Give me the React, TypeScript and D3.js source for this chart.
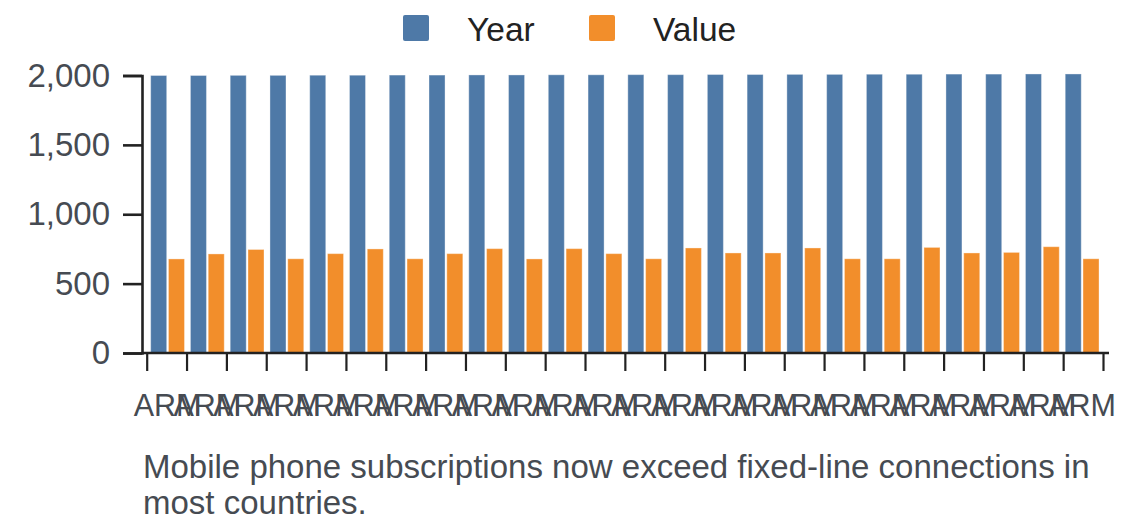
import React, { useRef, useEffect } from 'react';
import * as d3 from 'd3';

const countries: string[] = [
  'ARM', 'ARM', 'ARM', 'ARM', 'ARM', 'ARM', 'ARM', 'ARM', 'ARM', 'ARM', 'ARM', 'ARM',
  'ARM', 'ARM', 'ARM', 'ARM', 'ARM', 'ARM', 'ARM', 'ARM', 'ARM', 'ARM', 'ARM', 'ARM'
];

const years: number[] = [
  2000, 2000, 2001, 2001, 2002, 2002, 2003, 2003, 2004, 2004, 2005, 2005,
  2006, 2006, 2007, 2007, 2008, 2008, 2009, 2009, 2010, 2010, 2011, 2011
];

const values: number[] = [
  678, 714, 746, 679, 716, 750, 679, 716, 752, 678, 752, 716,
  679, 757, 721, 721, 757, 679, 679, 761, 721, 725, 766, 679
];

const seriesNames = ['Year', 'Value'];
const seriesColors = ['#4e79a7', '#f28e2b'];
const yTicks = [0, 500, 1000, 1500, 2000];
const caption = [
  'Mobile phone subscriptions now exceed fixed-line connections in',
  'most countries.'
];

const App: React.FC = () => {
  const svgRef = useRef<SVGSVGElement>(null);

  useEffect(() => {
    if (!svgRef.current) return;
    document.body.style.margin = '0';

    const svg = d3.select(svgRef.current);
    svg.selectAll('*').remove();

    const font = '"Liberation Sans", Arial, sans-serif';
    const axisColor = '#222';
    const labelColor = '#464b52';

    const left = 142;
    const tickStart = 146.7;
    const tickEnd = 1103;
    const top = 75.5;
    const bottom = 353;

    const idx = countries.map((_, i) => String(i));

    const x0 = d3.scaleBand<string>()
      .domain(idx)
      .range([tickStart, tickEnd])
      .paddingInner(0.15)
      .paddingOuter(0.1);

    const x1 = d3.scaleBand<string>()
      .domain(seriesNames)
      .range([0, x0.bandwidth()])
      .padding(0.1)
      .paddingOuter(0);

    const y = d3.scaleLinear()
      .domain([0, 2000])
      .range([bottom, top]);

    const color = d3.scaleOrdinal<string, string>()
      .domain(seriesNames)
      .range(seriesColors);

    const rows = countries.map((c, i) => ({ key: String(i), c, Year: years[i], Value: values[i] }));

    // bars
    svg.append('g')
      .selectAll('g')
      .data(rows)
      .join('g')
      .attr('transform', d => `translate(${x0(d.key)},0)`)
      .selectAll('rect')
      .data(d => seriesNames.map(k => ({ k, v: (d as any)[k] as number })))
      .join('rect')
      .attr('x', d => x1(d.k) || 0)
      .attr('y', d => y(d.v))
      .attr('width', x1.bandwidth())
      .attr('height', d => bottom - y(d.v))
      .attr('fill', d => color(d.k))
      .attr('stroke', '#fff')
      .attr('stroke-opacity', 0.35)
      .attr('stroke-width', 1);

    // x ticks at group boundaries
    const xTick = d3.scaleLinear().domain([0, countries.length]).range([tickStart, tickEnd]);
    const xAxis = svg.append('g')
      .attr('transform', `translate(0,${bottom})`)
      .call(d3.axisBottom(xTick).ticks(countries.length).tickSize(18).tickSizeOuter(0).tickFormat(() => ''));
    xAxis.select('.domain').remove();
    xAxis.selectAll('line').attr('stroke', axisColor).attr('stroke-width', 2.2);

    svg.append('line')
      .attr('x1', left).attr('x2', 1109)
      .attr('y1', bottom).attr('y2', bottom)
      .attr('stroke', axisColor).attr('stroke-width', 2.6);

    // x labels
    svg.append('g')
      .selectAll('text')
      .data(rows)
      .join('text')
      .attr('x', d => (x0(d.key) || 0) + x0.bandwidth() / 2)
      .attr('y', 416)
      .attr('text-anchor', 'middle')
      .attr('font-family', font)
      .attr('font-size', 30.5)
      .attr('fill', labelColor)
      .text(d => d.c);

    // y axis
    const yAxis = svg.append('g')
      .attr('transform', `translate(${left},0)`)
      .call(d3.axisLeft(y).tickValues(yTicks).tickSize(19).tickPadding(13).tickFormat(d3.format(',')));
    yAxis.select('.domain').attr('stroke', axisColor).attr('stroke-width', 2.6);
    yAxis.selectAll('line').attr('stroke', axisColor).attr('stroke-width', 2.6);
    yAxis.selectAll('text')
      .attr('font-family', font)
      .attr('font-size', 33)
      .attr('fill', labelColor);

    // legend
    const legend = svg.append('g').attr('transform', 'translate(403,15)');
    const item = legend.selectAll('g')
      .data(seriesNames)
      .join('g')
      .attr('transform', (_, i) => `translate(${i * 186},0)`);
    item.append('rect')
      .attr('width', 26).attr('height', 26)
      .attr('rx', 2)
      .attr('fill', d => color(d));
    item.append('text')
      .attr('x', 64)
      .attr('y', 26)
      .attr('font-family', font)
      .attr('font-size', 33.5)
      .attr('fill', '#222')
      .text(d => d);

    // caption
    svg.append('text')
      .attr('font-family', font)
      .attr('font-size', 33)
      .attr('fill', labelColor)
      .selectAll('tspan')
      .data(caption)
      .join('tspan')
      .attr('x', 143)
      .attr('y', (_, i) => 478 + i * 36)
      .text(d => d);
  }, []);

  return (
    <svg ref={svgRef} width="1140" height="528" style={{ display: 'block' }}></svg>
  );
};

export default App;
